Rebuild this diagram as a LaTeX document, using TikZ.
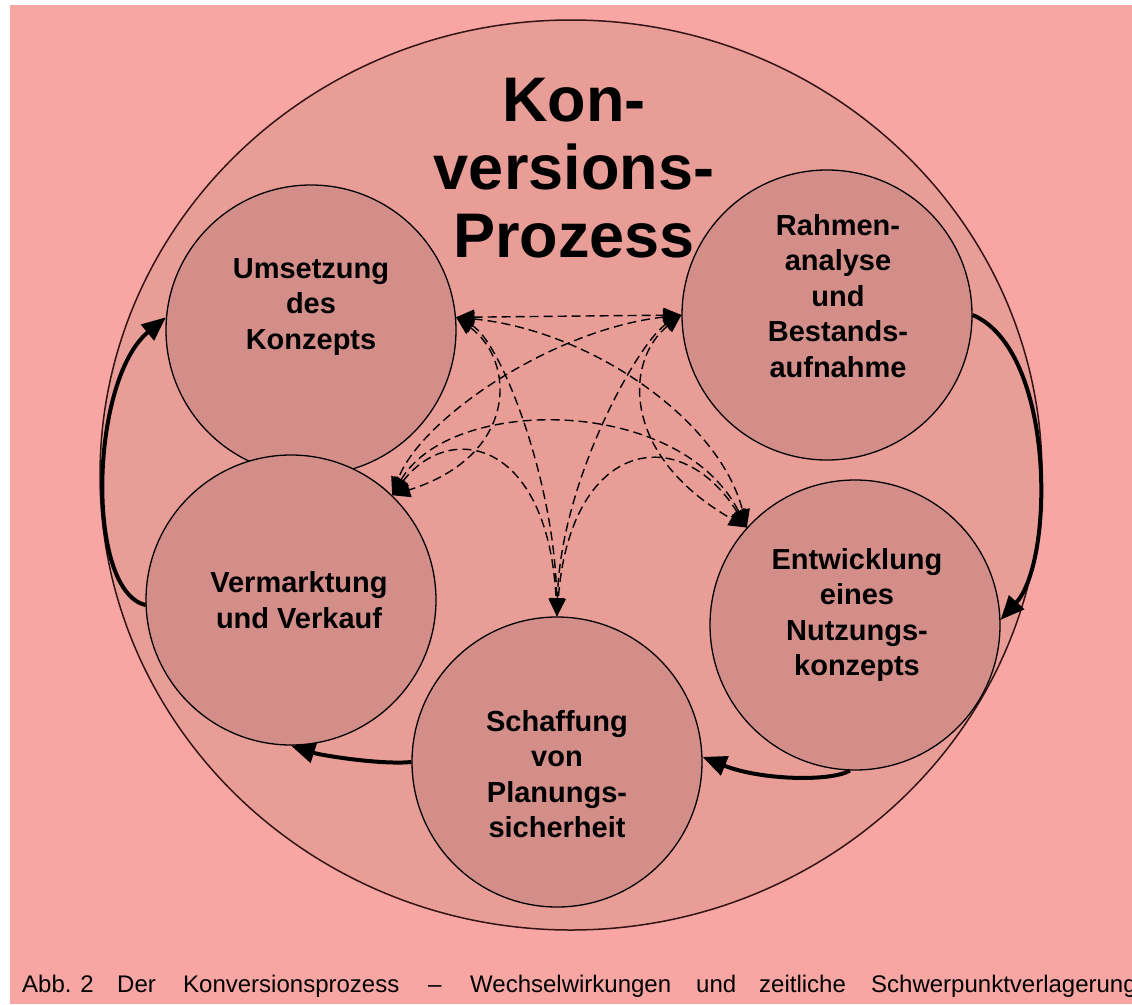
\documentclass[tikz,border=0pt]{standalone}
\usepackage{fontspec}
\setmainfont{Liberation Sans}
\usetikzlibrary{arrows.meta}
\definecolor{bgpink}{RGB}{247,166,164}
\definecolor{outerfill}{RGB}{233,157,151}
\definecolor{innerfill}{RGB}{212,142,138}
\definecolor{outerline}{RGB}{50,20,20}
\begin{document}
\begin{tikzpicture}[x=1pt,y=-1pt,
  bubble/.style={circle, draw=black, line width=1.3pt, fill=innerfill, minimum size=290pt, inner sep=0pt},
  lbl/.style={align=center, font=\bfseries\fontsize{29}{35.5}\selectfont, inner sep=0pt},
  cyc/.style={line width=4pt, -{Triangle[length=24pt,width=20pt]}},
  link/.style={line width=1.4pt, dash pattern=on 9pt off 5pt, {Triangle[length=18pt,width=15pt]}-{Triangle[length=18pt,width=15pt]}},
  captxt/.style={anchor=base west, inner sep=0pt, font=\fontsize{24}{28}\selectfont}]
\useasboundingbox (0,0) rectangle (1132,1004);
\fill[white] (0,0) rectangle (1132,1004);
\fill[bgpink] (10,5) rectangle (1132,1004);
\draw[outerline, line width=1.5pt, fill=outerfill] (571,475) ellipse [x radius=471, y radius=455];

\node[font=\bfseries\fontsize{63}{68}\selectfont, align=center, inner sep=0pt] (title) at (574,168) {Kon-\\versions-\\Prozess};

\node[bubble] (U) at (311,330) {};
\node[bubble] (R) at (827,315) {};
\node[bubble] (E) at (855,625) {};
\node[bubble] (S) at (557,762) {};
\node[bubble] (V) at (291,600) {};

\node[lbl] (Ut) at (311,307) {Umsetzung\\des\\Konzepts};
\node[lbl] (Rt) at (838,296) {Rahmen-\\analyse\\und\\Bestands-\\aufnahme};
\node[lbl] (Et) at (857,615) {Entwicklung\\eines\\Nutzungs-\\konzepts};
\node[lbl] (St) at (557,774) {Schaffung\\von\\Planungs-\\sicherheit};
\node[lbl] (Vt) at (299,600) {Vermarktung\\und Verkauf};

% cycle arrows
\draw[cyc] (R.0) .. controls (1055,350) and (1055,560) .. (E.2);
\draw[cyc] (E.-92) .. controls (830,782) and (760,780) .. (S.2);
\draw[cyc] (S.180) .. controls (380,765) and (320,755) .. (V.-90);
\draw[cyc] (V.182) .. controls (85,590) and (90,380) .. (U.175);

% interactions
\draw[link] (U.5) -- (R.180);
\draw[link] (U.5) .. controls (590,330) and (720,420) .. (E.138);
\draw[link] (R.180) .. controls (550,330) and (420,420) .. (V.46);
\draw[link] (U.5) .. controls (515,360) and (520,455) .. (V.46);
\draw[link] (R.180) .. controls (625,360) and (620,455) .. (E.138);
\draw[link] (U.5) .. controls (500,340) and (555,480) .. (S.90);
\draw[link] (R.180) .. controls (640,340) and (560,480) .. (S.90);
\draw[link] (V.46) .. controls (450,395) and (680,395) .. (E.138);
\draw[link] (V.46) .. controls (450,420) and (548,440) .. (S.90);
\draw[link] (E.138) .. controls (680,420) and (570,440) .. (S.90);

% caption
\node[captxt] (c1) at (22,992) {Abb. 2};
\node[captxt] (c2) at (117,992) {Der};
\node[captxt] (c3) at (183,992) {Konversionsprozess};
\node[captxt] (c4) at (428,992) {–};
\node[captxt] (c5) at (470,992) {Wechselwirkungen};
\node[captxt] (c6) at (696,992) {und};
\node[captxt] (c7) at (759,992) {zeitliche};
\node[captxt] (c8) at (871,992) {Schwerpunktverlagerung};
\end{tikzpicture}
\end{document}
